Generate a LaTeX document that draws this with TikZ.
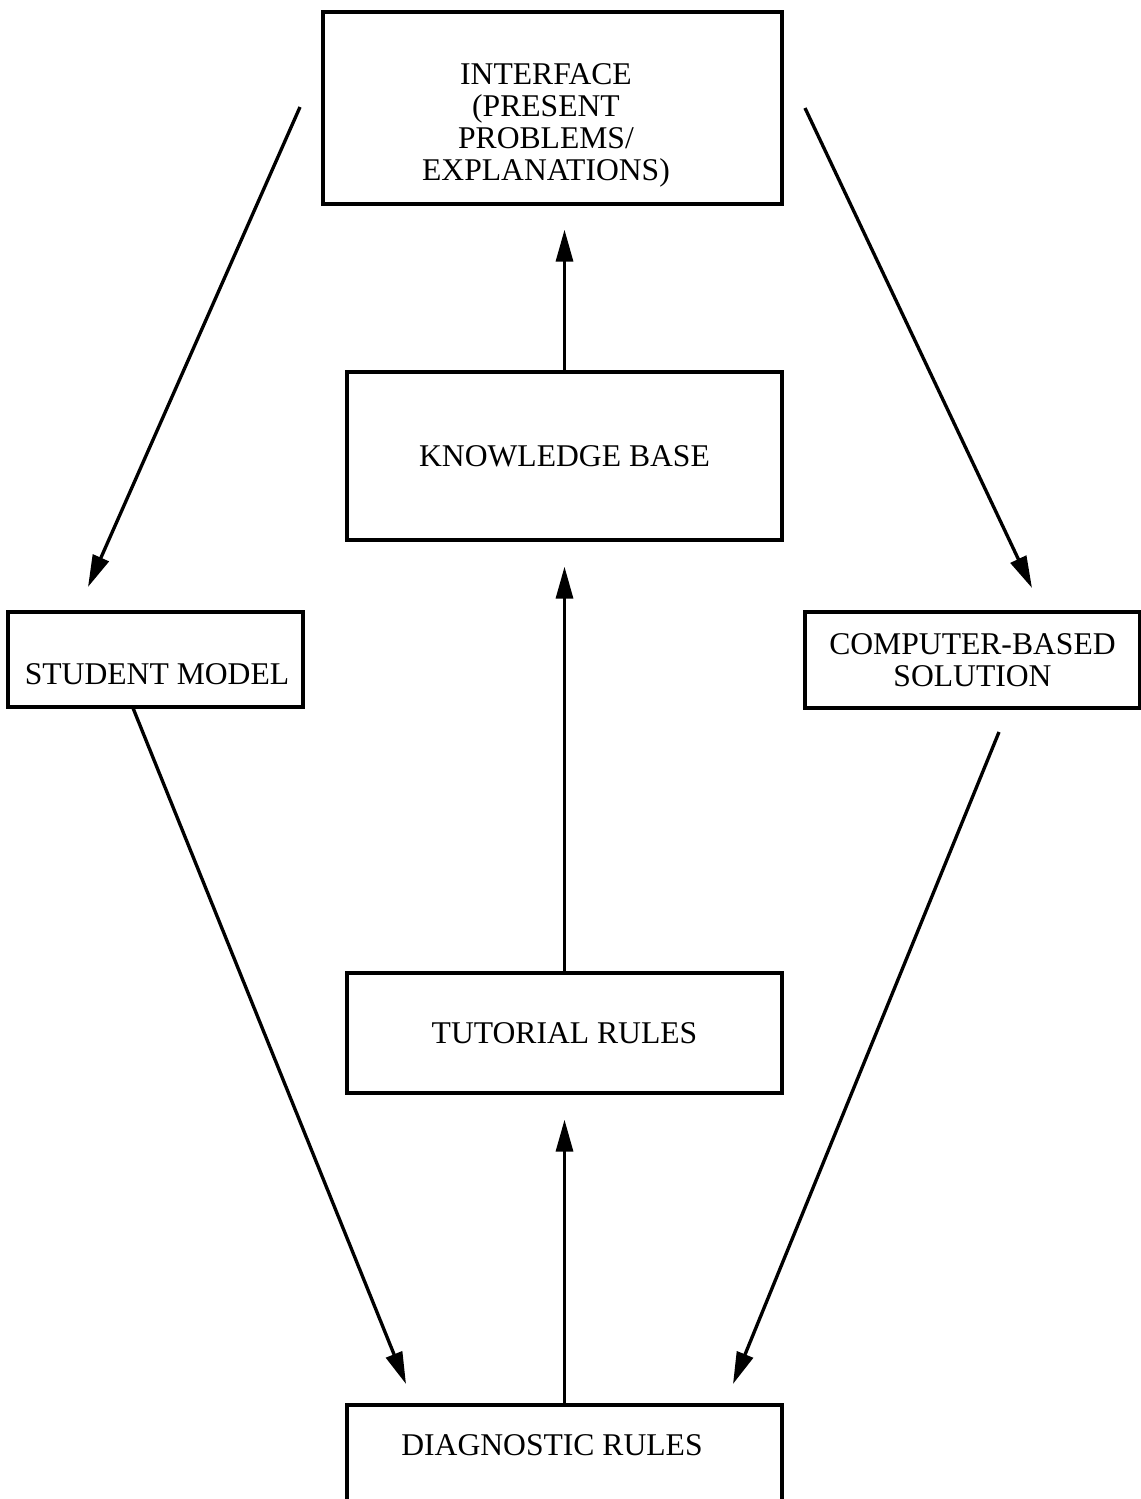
\documentclass[tikz,border=0pt]{standalone}
\usepackage{fontspec}
\setmainfont{Liberation Serif}
\usetikzlibrary{arrows.meta}
\begin{document}
\begin{tikzpicture}[x=0.02cm, y=-0.02cm,
  box/.style={draw, line width=1.9pt, rectangle, inner sep=0pt, align=center,
    font=\fontsize{18}{18.2}\selectfont},
  lbl/.style={inner sep=0pt, align=center, font=\fontsize{18}{18.2}\selectfont},
  arr/.style={line width=1.9pt, -{Triangle[length=0.64cm, width=0.34cm]}}]
\useasboundingbox (0,0) rectangle (1141,1499);
% boxes
\node[box, minimum width=9.18cm, minimum height=3.84cm] (interface) at (552.5,108) {};
\node[lbl] (interfacetext) at (546,125)
  {INTERFACE\\(PRESENT\\PROBLEMS/\\EXPLANATIONS)};
\node[box, minimum width=8.7cm, minimum height=3.36cm] (kb) at (564.5,456) {KNOWLEDGE BASE};
\node[box, minimum width=5.9cm, minimum height=1.9cm] (student) at (155.5,659.5) {};
\node[lbl] (studenttext) at (157,674) {STUDENT MODEL};
\node[box, minimum width=6.7cm, minimum height=1.92cm] (computer) at (972.5,660)
  {COMPUTER-BASED\\SOLUTION};
\node[box, minimum width=8.7cm, minimum height=2.4cm] (tutorial) at (564.5,1033) {TUTORIAL RULES};
\node[box, minimum width=8.7cm, minimum height=2.7cm] (diag) at (564.5,1472.5) {};
\node[lbl] (diagtext) at (552,1445) {DIAGNOSTIC RULES};
% vertical arrows
\draw[arr, shorten >=0.48cm] (kb.north) -- (kb.north |- interface.south);
\draw[arr, shorten >=0.5cm] (tutorial.north) -- (tutorial.north |- kb.south);
\draw[arr, shorten >=0.5cm] (diag.north) -- (diag.north |- tutorial.south);
% diagonal arrows
\coordinate (ifl) at (300,107);
\coordinate (stt) at (88,587);
\coordinate (ifr) at (805,108);
\coordinate (cpt) at (1032,588);
\coordinate (stb) at (133,708);
\coordinate (dgl) at (406,1384);
\coordinate (cpb) at (999,732);
\coordinate (dgr) at (733,1384);
\draw[arr] (ifl) -- (stt);
\draw[arr] (ifr) -- (cpt);
\draw[arr] (stb) -- (dgl);
\draw[arr] (cpb) -- (dgr);
\end{tikzpicture}
\end{document}
